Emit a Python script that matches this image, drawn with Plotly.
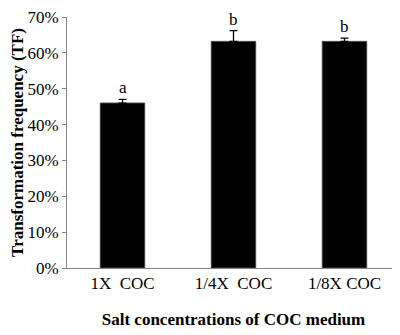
import plotly.graph_objects as go

categories = ["1X  COC", "1/4X  COC", "1/8X COC"]
tf_values = [0.46, 0.632, 0.632]
tf_errors = [0.010, 0.030, 0.009]
sig_letters = ["a", "b", "b"]
y_ticks = [0, 0.1, 0.2, 0.3, 0.4, 0.5, 0.6, 0.7]

FONT = "Liberation Serif, Times New Roman, serif"

fig = go.Figure()
fig.add_trace(go.Bar(
    x=categories, y=tf_values,
    marker=dict(color="black", line=dict(color="#404040", width=1)),
    error_y=dict(type="data", array=tf_errors, symmetric=False, arrayminus=[0, 0, 0],
                 color="black", thickness=1.3, width=4),
    width=0.4,
))
for c, v, e, s in zip(categories, tf_values, tf_errors, sig_letters):
    fig.add_annotation(x=c, y=v + e, text=s, showarrow=False, yanchor="bottom",
                       yshift=0, font=dict(family=FONT, size=17, color="black"))

fig.update_layout(
    width=392, height=327,
    margin=dict(l=59, r=0, t=9, b=67),
    paper_bgcolor="white", plot_bgcolor="white",
    showlegend=False,
    font=dict(family=FONT, color="black"),
)
fig.update_xaxes(
    showline=True, linecolor="#868686", linewidth=1, ticks="", automargin=False,
    tickfont=dict(family=FONT, size=17, color="black"),
    title=dict(text="<b>Salt concentrations of COC medium</b>",
               font=dict(family=FONT, size=17, color="black"), standoff=20),
)
fig.update_yaxes(
    range=[0, 0.7], tickvals=y_ticks, tickformat=".0%", automargin=False,
    ticklabeloverflow="allow",
    showline=True, linecolor="#868686", linewidth=1, showgrid=False,
    ticks="outside", ticklen=4, tickcolor="#868686",
    tickfont=dict(family=FONT, size=17, color="black"), zeroline=False,
    title=dict(text="<b>Transformation frequency (TF)</b>",
               font=dict(family=FONT, size=17, color="black"), standoff=10),
)
fig.write_html("out.html")
